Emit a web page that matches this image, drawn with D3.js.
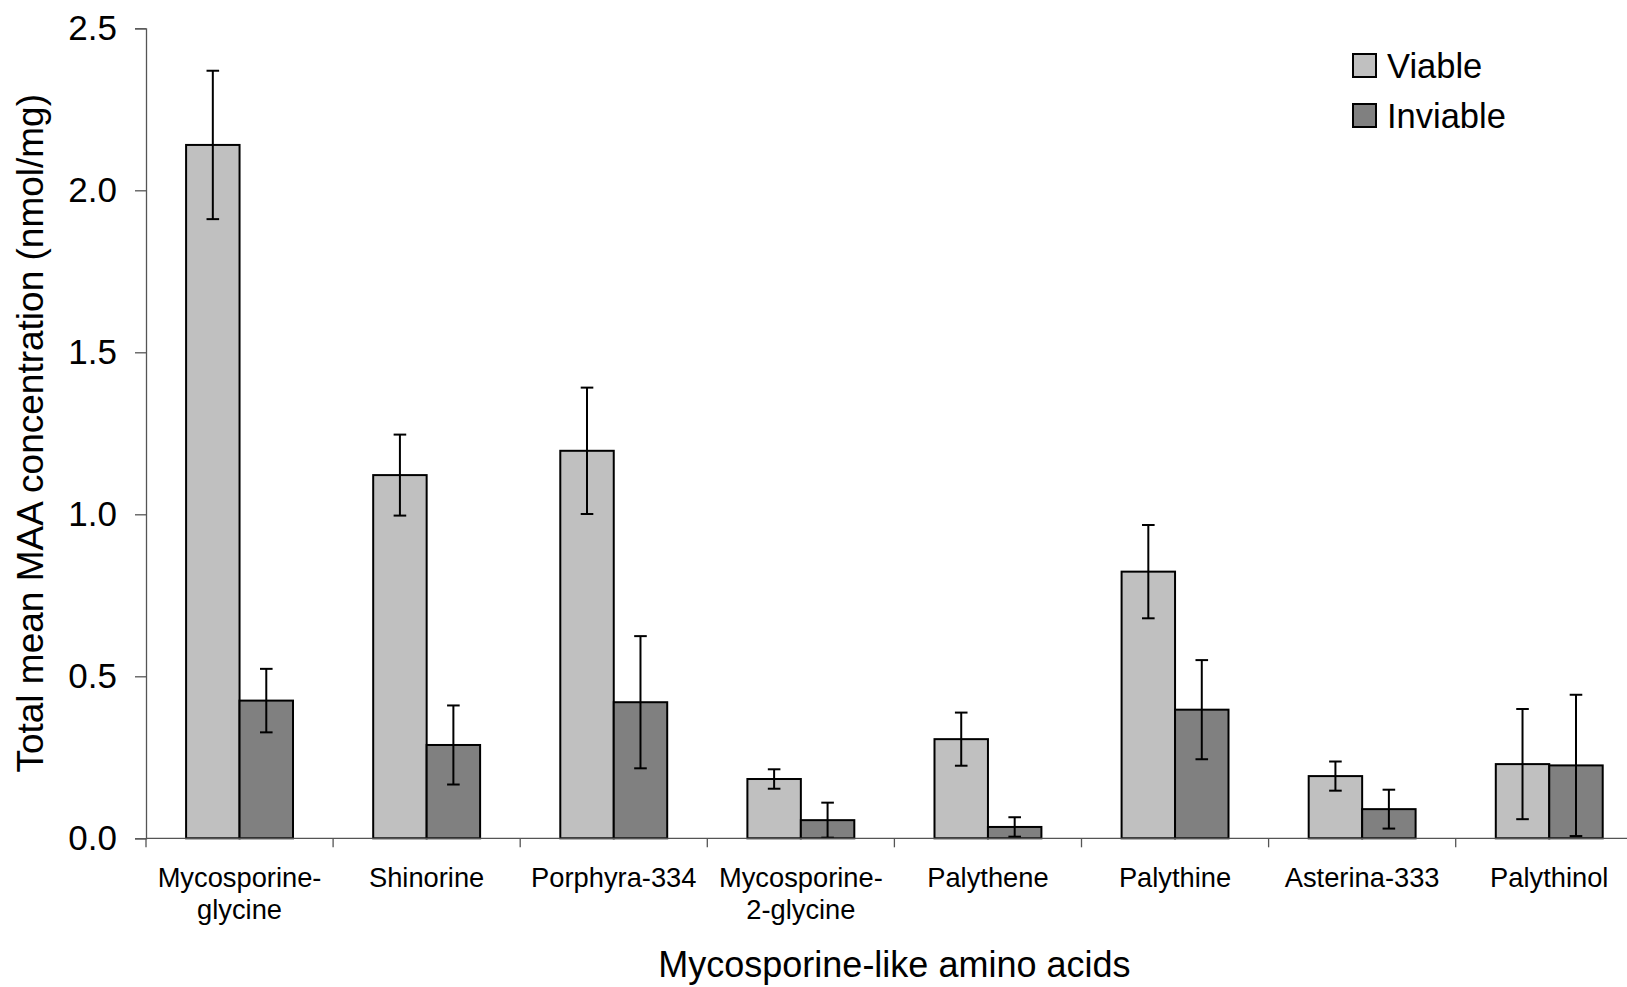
<!DOCTYPE html>
<html>
<head>
<meta charset="utf-8">
<script src="https://cdn.jsdelivr.net/npm/d3@7"></script>
<style>
  html, body { margin: 0; padding: 0; background: #fff; overflow: hidden; }
  svg { display: block; font-family: "Liberation Sans", Arial, sans-serif; }
</style>
</head>
<body>
<svg id="chart" width="1627" height="987"></svg>
<script>
// MAA categories (label lines split where the label wraps)
const categories = [
  "Mycosporine-glycine", "Shinorine", "Porphyra-334", "Mycosporine-2-glycine",
  "Palythene", "Palythine", "Asterina-333", "Palythinol"
];
const categoryLines = [
  ["Mycosporine-", "glycine"], ["Shinorine"], ["Porphyra-334"], ["Mycosporine-", "2-glycine"],
  ["Palythene"], ["Palythine"], ["Asterina-333"], ["Palythinol"]
];
const seriesNames = ["Viable", "Inviable"];
const viableMeans   = [2.14, 1.121, 1.196, 0.183, 0.306, 0.823, 0.192, 0.229];
const viableErr     = [0.229, 0.125, 0.195, 0.030, 0.082, 0.144, 0.045, 0.170];
const inviableMeans = [0.425, 0.288, 0.420, 0.056, 0.035, 0.397, 0.090, 0.225];
const inviableErr   = [0.098, 0.122, 0.204, 0.054, 0.030, 0.153, 0.060, 0.218];
const yTicks = [0, 0.5, 1.0, 1.5, 2.0, 2.5];
const colors = { Viable: "#c0c0c0", Inviable: "#808080" };

const svg = d3.select("#chart");
const plotLeft = 146, plotTop = 28.3, plotBottom = 838.3, catWidth = 187.1;

const x0 = d3.scaleBand()
  .domain(categories)
  .range([plotLeft, plotLeft + categories.length * catWidth])
  .paddingInner(0).paddingOuter(0);

// Excel-style 150% gap width: two bars plus 1.5 bar widths of gap per category
const barW = x0.bandwidth() / 3.5;
const x1 = d3.scaleBand()
  .domain(seriesNames)
  .range([0.75 * barW, 2.75 * barW])
  .padding(0);

const y = d3.scaleLinear().domain([0, 2.5]).range([plotBottom, plotTop]);

const rows = categories.map((c, i) => ({
  cat: c,
  bars: [
    { s: "Viable", v: viableMeans[i], e: viableErr[i] },
    { s: "Inviable", v: inviableMeans[i], e: inviableErr[i] }
  ]
}));

// Bars
const groups = svg.append("g").selectAll("g")
  .data(rows).join("g")
  .attr("transform", d => `translate(${x0(d.cat)},0)`);

groups.selectAll("rect")
  .data(d => d.bars).join("rect")
  .attr("x", d => x1(d.s))
  .attr("y", d => y(d.v))
  .attr("width", x1.bandwidth())
  .attr("height", d => y(0) - y(d.v))
  .attr("fill", d => colors[d.s])
  .attr("stroke", "#000")
  .attr("stroke-width", 2);

// Error bars
const capHalf = 6.3;
const eb = groups.selectAll("g.err")
  .data(d => d.bars).join("g").attr("class", "err")
  .attr("stroke", "#000").attr("stroke-width", 2);
eb.append("line")
  .attr("x1", d => x1(d.s) + x1.bandwidth() / 2)
  .attr("x2", d => x1(d.s) + x1.bandwidth() / 2)
  .attr("y1", d => y(d.v + d.e))
  .attr("y2", d => y(Math.max(0, d.v - d.e)));
eb.append("line")
  .attr("x1", d => x1(d.s) + x1.bandwidth() / 2 - capHalf)
  .attr("x2", d => x1(d.s) + x1.bandwidth() / 2 + capHalf)
  .attr("y1", d => y(d.v + d.e)).attr("y2", d => y(d.v + d.e));
eb.append("line")
  .attr("x1", d => x1(d.s) + x1.bandwidth() / 2 - capHalf)
  .attr("x2", d => x1(d.s) + x1.bandwidth() / 2 + capHalf)
  .attr("y1", d => y(Math.max(0, d.v - d.e))).attr("y2", d => y(Math.max(0, d.v - d.e)));

// Y axis
const yAxis = svg.append("g")
  .attr("transform", `translate(${plotLeft},0)`)
  .call(d3.axisLeft(y).tickValues(yTicks).tickFormat(d3.format(".1f")).tickSize(11).tickPadding(18));
yAxis.select(".domain").attr("stroke", "#555").attr("stroke-width", 1.3);
yAxis.selectAll(".tick line").attr("stroke", "#555").attr("stroke-width", 1.3);
yAxis.selectAll(".tick text")
  .attr("fill", "#000")
  .style("font-size", "35px")
  .style("font-family", "'Liberation Sans', Arial, sans-serif");

// X axis: ticks on category boundaries
const boundaries = d3.range(categories.length + 1).map(i => plotLeft + i * catWidth);
const xAxisG = svg.append("g");
xAxisG.append("line")
  .attr("x1", plotLeft).attr("x2", boundaries[boundaries.length - 1])
  .attr("y1", y(0)).attr("y2", y(0))
  .attr("stroke", "#555").attr("stroke-width", 1.3);
xAxisG.selectAll("line.tk")
  .data(boundaries).join("line").attr("class", "tk")
  .attr("x1", d => d).attr("x2", d => d)
  .attr("y1", y(0)).attr("y2", y(0) + 9)
  .attr("stroke", "#555").attr("stroke-width", 1.3);

// Category labels
const labels = svg.append("g").selectAll("text")
  .data(categories).join("text")
  .attr("x", (d) => x0(d) + x0.bandwidth() / 2)
  .attr("y", 887)
  .attr("text-anchor", "middle")
  .style("font-size", "27.3px")
  .attr("fill", "#000");
labels.selectAll("tspan")
  .data((d, i) => categoryLines[i]).join("tspan")
  .attr("x", function () { return d3.select(this.parentNode).attr("x"); })
  .attr("dy", (d, i) => i === 0 ? 0 : 32)
  .text(d => d);

// Axis titles
svg.append("text")
  .attr("x", plotLeft + 4 * catWidth)
  .attr("y", 977)
  .attr("text-anchor", "middle")
  .style("font-size", "36px")
  .text("Mycosporine-like amino acids");

svg.append("text")
  .attr("transform", `translate(43,${(plotTop + plotBottom) / 2}) rotate(-90)`)
  .attr("text-anchor", "middle")
  .style("font-size", "37px")
  .text("Total mean MAA concentration (nmol/mg)");

// Legend
const legend = svg.append("g").attr("transform", "translate(1353,54)");
const li = legend.selectAll("g").data(seriesNames).join("g")
  .attr("transform", (d, i) => `translate(0,${i * 50})`);
li.append("rect")
  .attr("width", 23).attr("height", 23)
  .attr("fill", d => colors[d])
  .attr("stroke", "#000").attr("stroke-width", 2);
li.append("text")
  .attr("x", 34).attr("y", 24)
  .style("font-size", "34.5px")
  .text(d => d);
</script>
</body>
</html>
